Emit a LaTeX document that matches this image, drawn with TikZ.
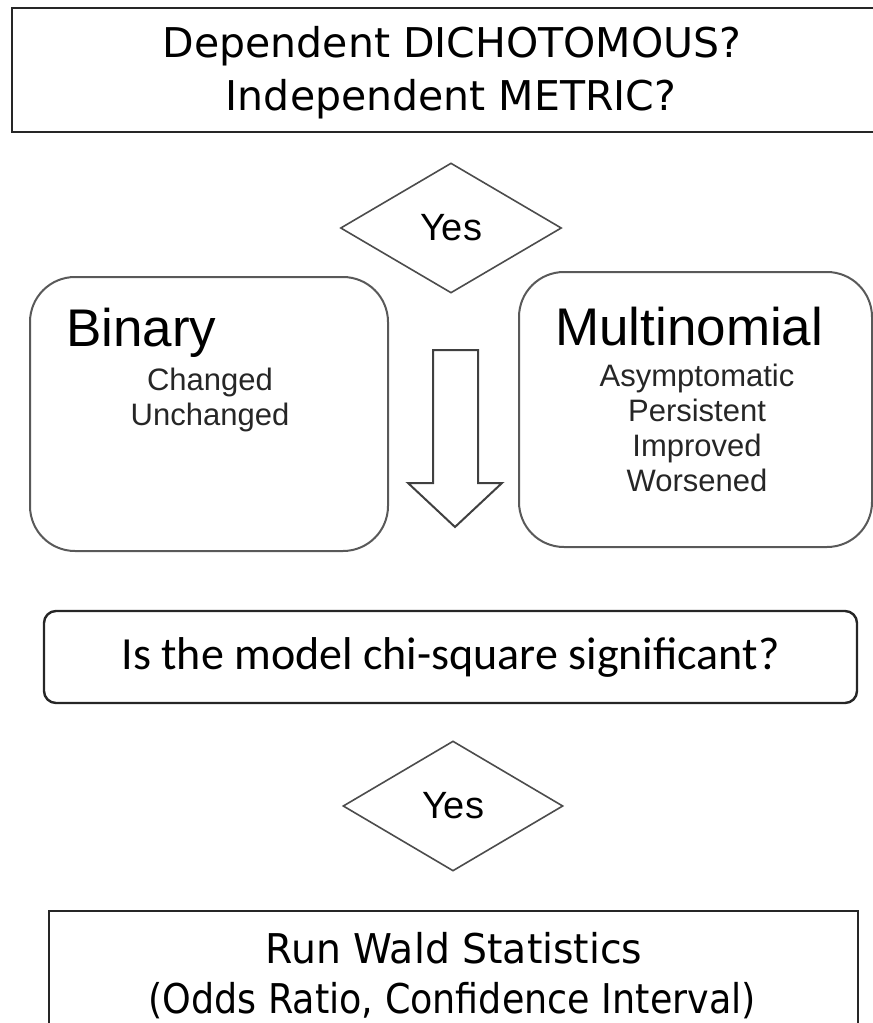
\documentclass[tikz,border=0pt]{standalone}
\usepackage{fontspec}
\newfontfamily\verd{DejaVu Sans}
\newfontfamily\verdm[FakeStretch=0.96]{DejaVu Sans}
\newfontfamily\verdn[FakeStretch=0.89]{DejaVu Sans}
\newfontfamily\arial{Liberation Sans}
\newfontfamily\calib{Carlito}
\usetikzlibrary{shapes.geometric}

\begin{document}
\begin{tikzpicture}[x=1pt, y=-1pt,
    frame/.style={draw=black!85, line width=2.4pt},
    rbox/.style={draw=black!65, line width=2pt, rounded corners=45pt},
    choice/.style={draw=black!70, line width=1.6pt, diamond, inner sep=0pt,
        font=\arial\fontsize{38}{38}\selectfont},
    head/.style={anchor=base west, inner sep=0pt, font=\arial\fontsize{53}{53}\selectfont},
    item/.style={anchor=base, inner sep=0pt, font=\arial\fontsize{31}{31}\selectfont, text=black!85},
    lbl/.style={anchor=base, inner sep=0pt, font=\verd\fontsize{41}{41}\selectfont}
]
    \useasboundingbox (0,0) rectangle (873,1023);
    \clip (0,0) rectangle (873,1023);

    % question box
    \node[frame, minimum width=868pt, minimum height=124pt] (top) at (446,70) {};
    \node[lbl] (dep) at (452,57) {Dependent DICHOTOMOUS?};
    \node[lbl] (indep) at (451,110) {Independent METRIC?};

    \node[choice, minimum width=221pt, minimum height=130pt] (yes1) at (451,228) {Yes};

    % the two kinds of model
    \node[rbox, minimum width=358pt, minimum height=274pt] (bin) at (209,414) {};
    \node[head] (binT) at (66,346) {Binary};
    \node[item] (chg) at (210,390) {Changed};
    \node[item] (unchg) at (210,425) {Unchanged};

    \node[rbox, minimum width=353pt, minimum height=275pt] (mult) at (695.5,409.5) {};
    \node[head] (multT) at (555,345) {Multinomial};
    \node[item] (asy) at (697,386) {Asymptomatic};
    \node[item] (pers) at (697,421) {Persistent};
    \node[item] (impr) at (697,456) {Improved};
    \node[item] (wors) at (697,491) {Worsened};

    \draw[draw=black!75, line width=2pt, line join=miter]
        (433,350) -- (433,483) -- (408,483) -- (455,527) -- (502,483) -- (478,483) -- (478,350) -- cycle;

    \node[frame, rounded corners=12pt, minimum width=813pt, minimum height=92pt,
        font=\calib\fontsize{46}{46}\selectfont] (chi) at (450.5,657) {Is the model chi-square significant?};

    \node[choice, minimum width=220pt, minimum height=130pt] (yes2) at (453,806) {Yes};

    % result
    \node[frame, minimum width=809pt, minimum height=140pt, anchor=north west] (wald) at (48,910) {};
    \node[lbl, font=\verdm\fontsize{41}{41}\selectfont] (run) at (454,963) {Run Wald Statistics};
    \node[lbl, font=\verdn\fontsize{41}{41}\selectfont] (odds) at (452,1013) {(Odds Ratio, Confidence Interval)};
\end{tikzpicture}
\end{document}
